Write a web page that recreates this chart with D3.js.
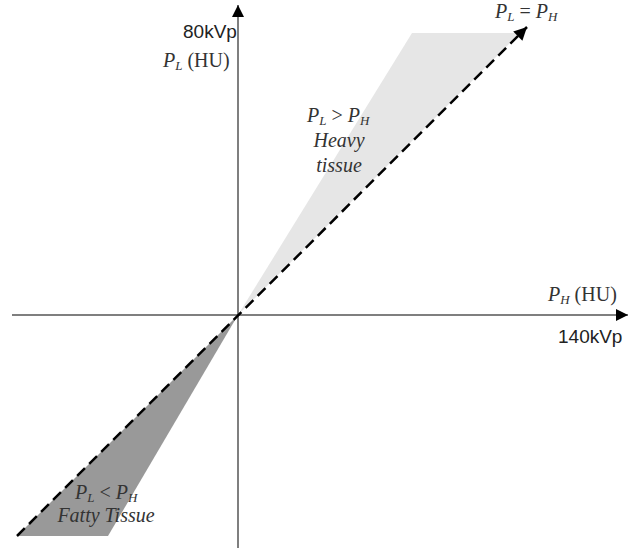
<!DOCTYPE html>
<html><head><meta charset="utf-8">
<script src="https://cdn.jsdelivr.net/npm/d3@7"></script>
<style>body{margin:0;background:#fff}svg{display:block}</style>
</head><body>
<script>
// data (units: HU-like, origin at 0,0)
const xDomain = [-226, 392];
const yDomain = [-233, 310];
const heavyRegion = [[0,0],[174,282],[282,282]];
const fattyRegion = [[0,0],[-221,-221],[-130,-221]];
const identityLine = [[-221,-221],[289,288]];
const hAxis = [[-226,0],[390,0]];
const vAxis = [[0,-233],[0,310]];

const W=631,H=550;
const svg=d3.select("body").append("svg").attr("width",W).attr("height",H);
const x=d3.scaleLinear().domain(xDomain).range([12,630]);
const y=d3.scaleLinear().domain(yDomain).range([548,5]);
const line=d3.line().x(d=>x(d[0])).y(d=>y(d[1]));

const defs=svg.append("defs");
defs.append("marker").attr("id","arr").attr("viewBox","0 0 10 10").attr("refX",10).attr("refY",5)
  .attr("markerWidth",14).attr("markerHeight",12).attr("markerUnits","userSpaceOnUse").attr("orient","auto")
  .append("path").attr("d","M0,0L10,5L0,10Z").attr("fill","#000");
defs.append("marker").attr("id","arr2").attr("viewBox","0 0 10 10").attr("refX",10).attr("refY",5)
  .attr("markerWidth",18).attr("markerHeight",13).attr("markerUnits","userSpaceOnUse").attr("orient","auto")
  .append("path").attr("d","M0,0L10,5L0,10Z").attr("fill","#000");

svg.append("path").attr("d",line(heavyRegion)+"Z").attr("fill","#e6e6e6");
svg.append("path").attr("d",line(fattyRegion)+"Z").attr("fill","#999999");

svg.append("path").attr("d",line(hAxis)).attr("stroke","#555").attr("stroke-width",1.5).attr("fill","none").attr("marker-end","url(#arr)");
svg.append("path").attr("d",line(vAxis)).attr("stroke","#555").attr("stroke-width",1.5).attr("fill","none").attr("marker-end","url(#arr)");

svg.append("path").attr("d",line(identityLine)).attr("stroke","#000").attr("stroke-width",2.5)
  .attr("stroke-dasharray","11,6").attr("fill","none").attr("marker-end","url(#arr2)");

const serif="'Liberation Serif','Times New Roman',serif";
const sans="'Liberation Sans',Arial,sans-serif";
const FS="20px", SS="13px";
function label(xp,yp,main,s,rest,main2,s2){
  const t=svg.append("text").attr("x",xp).attr("y",yp).attr("font-family",serif).attr("font-size",FS).attr("fill","#333");
  t.append("tspan").attr("font-style","italic").text(main);
  t.append("tspan").attr("font-style","italic").attr("font-size",SS).attr("dy",3).text(s);
  t.append("tspan").attr("dy",-3).text(rest);
  if(main2){
    t.append("tspan").attr("font-style","italic").text(main2);
    t.append("tspan").attr("font-style","italic").attr("font-size",SS).attr("dy",3).text(s2);
  }
}
svg.append("text").attr("x",183).attr("y",38).attr("font-family",sans).attr("font-size","19px").attr("fill","#222").text("80kVp");
label(163,67,"P","L"," (HU)");
label(548,301,"P","H"," (HU)");
svg.append("text").attr("x",558).attr("y",343).attr("font-family",sans).attr("font-size","19px").attr("fill","#222").text("140kVp");
label(495,18,"P","L"," = ","P","H");
label(307,122,"P","L"," > ","P","H");
svg.append("text").attr("x",339).attr("y",147).attr("text-anchor","middle").attr("font-family",serif).attr("font-style","italic").attr("font-size",FS).attr("fill","#333").text("Heavy");
svg.append("text").attr("x",339).attr("y",172).attr("text-anchor","middle").attr("font-family",serif).attr("font-style","italic").attr("font-size",FS).attr("fill","#333").text("tissue");
label(75,499,"P","L"," < ","P","H");
svg.append("text").attr("x",106).attr("y",522).attr("text-anchor","middle").attr("font-family",serif).attr("font-style","italic").attr("font-size",FS).attr("fill","#333").text("Fatty Tissue");
</script>
</body></html>
